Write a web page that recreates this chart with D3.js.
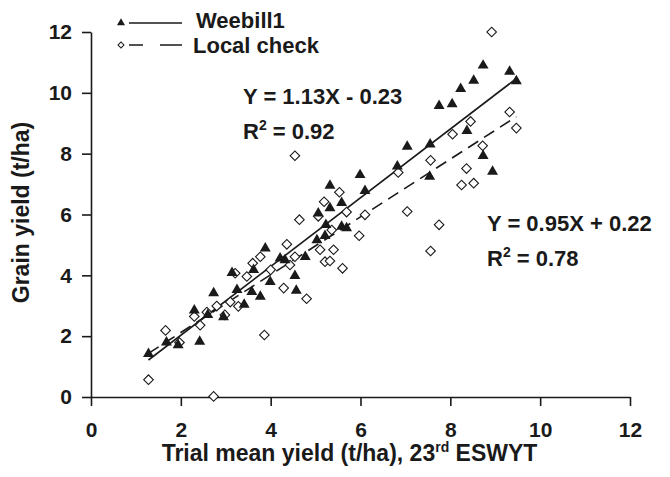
<!DOCTYPE html>
<meta charset="utf-8">
<script src="https://d3js.org/d3.v7.min.js"></script>
<style>
  body { margin: 0; background: #fff; }
  text { font-family: "Liberation Sans", Arial, sans-serif; font-weight: bold; fill: #1a1a1a; }
</style>
<body>
<div id="my_dataviz"></div>
<script>

// Weebill1 points: [trial mean yield, grain yield]
var weebill = [
  [1.28,1.42],[1.68,1.80],[1.94,1.71],[2.42,1.82],[2.30,2.85],[2.73,3.42],[2.60,2.70],[2.95,2.63],
  [3.14,4.08],[3.25,3.52],[3.41,3.04],[3.58,3.46],[3.62,4.18],[3.77,3.30],[3.88,4.89],[3.99,3.79],
  [4.21,4.56],[4.32,4.50],[4.54,3.98],[4.57,3.50],[4.77,4.61],[5.03,5.16],[5.06,6.04],[5.21,5.30],
  [5.23,5.66],[5.32,6.21],[5.32,6.95],[5.58,6.38],[5.58,5.60],[5.69,5.55],[5.99,7.30],[6.10,6.78],
  [6.82,7.58],[7.04,8.23],[7.55,8.31],[7.54,7.25],[7.75,9.57],[8.04,9.63],[8.23,10.13],[8.37,8.75],
  [8.52,10.40],[8.73,10.90],[8.73,7.93],[8.94,7.41],[9.32,10.70],[9.47,10.39]
];

// Local check points
var localCheck = [
  [1.28,0.57],[1.66,2.19],[1.97,1.79],[2.30,2.65],[2.43,2.36],[2.58,2.79],[2.73,0.02],[2.80,2.99],
  [2.98,2.70],[3.10,3.12],[3.21,4.07],[3.28,2.98],[3.47,3.96],[3.60,4.40],[3.77,4.61],[3.86,2.04],
  [4.00,4.18],[4.29,3.58],[4.36,5.02],[4.43,4.34],[4.54,4.61],[4.54,7.93],[4.64,5.83],[4.80,3.23],
  [5.06,5.94],[5.10,4.84],[5.19,6.42],[5.21,4.45],[5.32,4.47],[5.36,5.49],[5.40,4.84],[5.53,6.73],
  [5.60,4.23],[5.69,6.08],[5.97,5.30],[6.10,5.99],[6.84,7.38],[7.04,6.10],[7.56,4.80],[7.56,7.78],
  [7.75,5.66],[8.05,8.64],[8.25,6.97],[8.36,7.51],[8.45,9.06],[8.52,7.03],[8.72,8.26],[8.92,12.0],
  [9.32,9.37],[9.47,8.84]
];

// fitted lines: slope, intercept
var fitWeebill = [1.13, -0.23];
var fitLocal = [0.95, 0.22];

var ticks = [0, 2, 4, 6, 8, 10, 12];

var margin = { top: 32, right: 40, bottom: 80, left: 91 },
  width = 539,
  height = 365;

var svg = d3.select("#my_dataviz")
  .append("svg")
  .attr("width", 670)
  .attr("height", 477)
  .append("g")
  .attr("transform", "translate(" + margin.left + "," + margin.top + ")");

var x = d3.scaleLinear().domain([0, 12]).range([0, width]);
var y = d3.scaleLinear().domain([0, 12]).range([height, 0]);

// axes
var xAxis = svg.append("g")
  .attr("transform", "translate(0," + height + ")")
  .call(d3.axisBottom(x).tickValues(ticks).tickSize(9).tickPadding(16).tickSizeOuter(0));
var yAxis = svg.append("g")
  .call(d3.axisLeft(y).tickValues(ticks).tickSize(9).tickPadding(10).tickSizeOuter(0));

[xAxis, yAxis].forEach(function (a) {
  a.select(".domain").attr("stroke", "#1a1a1a").attr("stroke-width", 1.6);
  a.selectAll(".tick line").attr("stroke", "#1a1a1a").attr("stroke-width", 1.6);
  a.selectAll(".tick text").style("font-size", "21px").attr("fill", "#1a1a1a")
    .style("font-family", "'Liberation Sans', Arial, sans-serif").style("font-weight", "bold");
});

// axis titles
var xt = svg.append("text")
  .attr("x", width / 2 - 11)
  .attr("y", height + 64)
  .attr("text-anchor", "middle")
  .style("font-size", "23px");
xt.append("tspan").text("Trial mean yield (t/ha), 23");
xt.append("tspan").text("rd").style("font-size", "14px").attr("dy", -9);
xt.append("tspan").text(" ESWYT").attr("dy", 9);

svg.append("text")
  .attr("transform", "translate(-62," + (height / 2 - 2) + ") rotate(-90)")
  .attr("text-anchor", "middle")
  .style("font-size", "23px")
  .text("Grain yield (t/ha)");

// regression lines over the data range
function fitLine(data, fit) {
  var ext = d3.extent(data, function (d) { return d[0]; });
  return ext.map(function (v) { return [v, fit[0] * v + fit[1]]; });
}
var line = d3.line()
  .x(function (d) { return x(d[0]); })
  .y(function (d) { return y(d[1]); });

svg.append("path")
  .attr("d", line(fitLine(weebill, fitWeebill)))
  .attr("stroke", "#1a1a1a").attr("stroke-width", 1.6).attr("fill", "none");
svg.append("path")
  .attr("d", line(fitLine(localCheck, fitLocal)))
  .attr("stroke", "#1a1a1a").attr("stroke-width", 1.6).attr("fill", "none")
  .attr("stroke-dasharray", "12,7");

// points
var tri = d3.symbol().type(d3.symbolTriangle).size(52);
var dia = d3.symbol().type(d3.symbolSquare).size(46);

svg.append("g").selectAll("path")
  .data(localCheck)
  .enter().append("path")
  .attr("d", dia)
  .attr("transform", function (d) { return "translate(" + x(d[0]) + "," + y(d[1]) + ") rotate(45)"; })
  .attr("fill", "#fff").attr("stroke", "#1a1a1a").attr("stroke-width", 1.1);

svg.append("g").selectAll("path")
  .data(weebill)
  .enter().append("path")
  .attr("d", tri)
  .attr("transform", function (d) { return "translate(" + x(d[0]) + "," + y(d[1]) + ")"; })
  .attr("fill", "#1a1a1a");

// equations
function equation(px, py, eq, r2) {
  svg.append("text").attr("x", px).attr("y", py).style("font-size", "22px").text(eq);
  var t = svg.append("text").attr("x", px).attr("y", py + 35).style("font-size", "22px");
  t.append("tspan").text("R");
  t.append("tspan").text("2").style("font-size", "14px").attr("dy", -9);
  t.append("tspan").text(" = " + r2).attr("dy", 9);
}
equation(152, 72, "Y = 1.13X - 0.23", "0.92");
equation(396, 199, "Y = 0.95X + 0.22", "0.78");

// legend
var leg = svg.append("g").attr("transform", "translate(" + (-margin.left) + "," + (-margin.top) + ")");
leg.append("path").attr("d", d3.symbol().type(d3.symbolTriangle).size(28))
  .attr("transform", "translate(121,23)").attr("fill", "#1a1a1a");
leg.append("line").attr("x1", 129).attr("x2", 182).attr("y1", 23).attr("y2", 23)
  .attr("stroke", "#1a1a1a").attr("stroke-width", 1.6);
leg.append("text").attr("x", 196).attr("y", 28).style("font-size", "22px").text("Weebill1");
leg.append("path").attr("d", d3.symbol().type(d3.symbolSquare).size(18))
  .attr("transform", "translate(121,45) rotate(45)").attr("fill", "#fff")
  .attr("stroke", "#1a1a1a").attr("stroke-width", 1);
leg.append("line").attr("x1", 129).attr("x2", 182).attr("y1", 45).attr("y2", 45)
  .attr("stroke", "#1a1a1a").attr("stroke-width", 1.6).attr("stroke-dasharray", "14,17,22");
leg.append("text").attr("x", 193).attr("y", 53).style("font-size", "22px").text("Local check");

</script>
</body>
